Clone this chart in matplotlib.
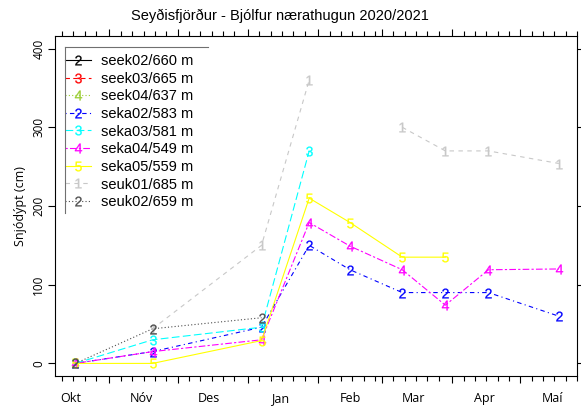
import numpy as np
import pandas as pd
import matplotlib
matplotlib.use("Agg")
import matplotlib.pyplot as plt
from matplotlib.lines import Line2D

plt.rcParams['mathtext.fontset'] = 'custom'
plt.rcParams['mathtext.rm'] = 'Liberation Sans'
plt.rcParams['mathtext.it'] = 'Liberation Sans:italic'
plt.rcParams['mathtext.bf'] = 'Liberation Sans:bold'

nan = np.nan

# measurement dates
dates = pd.to_datetime(["2020-10-17", "2020-11-20", "2021-01-07", "2021-01-28",
                        "2021-02-15", "2021-03-10", "2021-03-29", "2021-04-17",
                        "2021-05-18"])

# snow depth (cm) per station
seek02 = [nan, nan, nan, nan, nan, nan, nan, nan, nan]
seek03 = [nan, nan, nan, nan, nan, nan, nan, nan, nan]
seek04 = [nan, nan, nan, nan, nan, nan, nan, nan, nan]
seka02 = [0, 15, 46, 150, 119, 90, 90, 90, 60]
seka03 = [0, 30, 46, 270, nan, nan, nan, nan, nan]
seka04 = [0, 15, 30, 179, 149, 119, 74, 119, 120]
seka05 = [0, 0, 29, 210, 179, 135, 135, nan, nan]
seuk01 = [nan, 44, 150, 360, nan, 300, 270, 270, 254]
seuk02 = [0, 44, 58, nan, nan, nan, nan, nan, nan]

labels = ["seek02/660 m", "seek03/665 m", "seek04/637 m", "seka02/583 m",
          "seka03/581 m", "seka04/549 m", "seka05/559 m", "seuk01/685 m",
          "seuk02/659 m"]
values = [seek02, seek03, seek04, seka02, seka03, seka04, seka05, seuk01, seuk02]
symbols = ["2", "3", "4", "2", "3", "4", "5", "1", "2"]

month_names = ["Okt", "Nóv", "Des", "Jan", "Feb", "Mar", "Apr", "Maí"]
month_starts = pd.date_range("2020-10-01", "2021-05-01", freq="MS")

# line styles (R-like lty)
colors = ["black", "#FF0000", "#9ACD32", "#0000FF", "#00FFFF", "#FF00FF",
          "#FFFF00", "#C8C8C8", "#4D4D4D"]
styles = ["-", (0, (4, 3)), (0, (1, 2)), (0, (1, 3, 4, 3)), (0, (7, 3)),
          (0, (2, 2, 6, 2)), "-", (0, (4, 4)), (0, (1, 2))]

fig = plt.figure(figsize=(5.81, 4.07), dpi=100)
ax = fig.add_axes([55 / 581, 1 - 376 / 407, 522 / 581, 340 / 407])

handles = []
for lab, vals, sym, col, ls in zip(labels, values, symbols, colors, styles):
    h, = ax.plot(dates, vals, color=col, ls=ls, lw=0.8,
                 marker=r"$\mathrm{%s}$" % sym, ms=7, mfc=col, mec=col, mew=0.2,
                 label=lab)
    handles.append(h)

# x ticks: long at month starts, short on days 6,11,16,21,26
minor = [d + pd.Timedelta(days=k) for d in month_starts for k in (5, 10, 15, 20, 25)]
ax.set_xticks(month_starts)
ax.set_xticks(minor, minor=True)
ax.set_xticklabels([])
ax.set_xlim(pd.Timestamp("2020-10-08"), pd.Timestamp("2021-05-26"))
ax.tick_params(axis="x", which="major", length=5, width=0.8, top=True, direction="out")
ax.tick_params(axis="x", which="minor", length=3.6, width=0.8, top=True, direction="out")
for name, d in zip(month_names, month_starts):
    ax.text(d + pd.Timedelta(days=14), -0.065, name, transform=ax.get_xaxis_transform(),
            ha="center", va="center", fontsize=9, family="Open Sans")

ax.set_yticks([0, 100, 200, 300, 400])
ax.set_ylim(-16, 416)
ax.tick_params(axis="y", length=5, width=0.8, right=True, direction="out", pad=2)
for t in ax.get_yticklabels():
    t.set_rotation(90)
    t.set_va("center")
    t.set_family("Open Sans")
    t.set_fontsize(8.5)
ax.set_ylabel("Snjódýpt (cm)", family="Open Sans", fontsize=9, labelpad=4)

for s in ax.spines.values():
    s.set_linewidth(0.8)

fig.text(280 / 581, 1 - 16 / 407, "Seyðisfjörður - Bjólfur nærathugun 2020/2021",
         ha="center", va="center", fontsize=10.5, family="Liberation Sans")

leg = ax.legend(handles=handles, loc="upper left", bbox_to_anchor=(65 / 581, 1 - 54 / 407),
                bbox_transform=fig.transFigure, frameon=False, borderpad=0, borderaxespad=0,
                handlelength=1.75, handletextpad=0.7, labelspacing=0.25, numpoints=1,
                prop={"family": "Liberation Sans", "size": 10.5})

# legend box (only top and left edges visible)
fig.add_artist(Line2D([65 / 581, 208 / 581], [1 - 47 / 407, 1 - 47 / 407],
                      transform=fig.transFigure, color="#707070", lw=0.8))
fig.add_artist(Line2D([65 / 581, 65 / 581], [1 - 47 / 407, 1 - 213 / 407],
                      transform=fig.transFigure, color="#707070", lw=0.8))

fig.savefig("out.png", dpi=100)
